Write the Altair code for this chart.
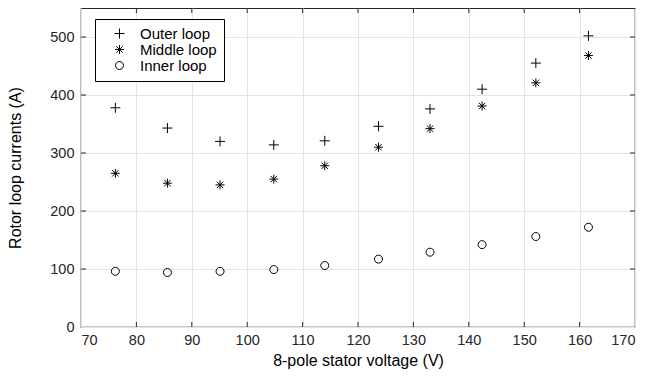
import altair as alt
import pandas as pd

voltage = [76.2, 85.6, 95.1, 104.8, 114.0, 123.7, 133.0, 142.4, 152.1, 161.6]
outer = [378, 343, 320, 314, 321, 346, 376, 410, 455, 502]
middle = [265, 248, 245, 255, 278, 310, 342, 381, 421, 468]
inner = [96, 94, 96, 99, 106, 117, 129, 142, 156, 172]
series_names = ["Outer loop", "Middle loop", "Inner loop"]
x_ticks = [70, 80, 90, 100, 110, 120, 130, 140, 150, 160, 170]
y_ticks = [0, 100, 200, 300, 400, 500]

rows = []
for name, vals in zip(series_names, [outer, middle, inner]):
    for v, c in zip(voltage, vals):
        rows.append({"V": v, "I": c, "Loop": name})
df = pd.DataFrame(rows)

W, H = 554, 319
FONT = "Liberation Sans"

xs = alt.Scale(domain=[70, 170], nice=False)
ys = alt.Scale(domain=[0, 550], nice=False)

plus = "M-1,0H1M0,-1V1"
star = "M-0.9,0H0.9M0,-0.9V0.9M-0.64,-0.64L0.64,0.64M-0.64,0.64L0.64,-0.64"
ring = "M0.8,0A0.8,0.8 0 1,1 -0.8,0A0.8,0.8 0 1,1 0.8,0Z"

points = alt.Chart(df).mark_point(filled=False, strokeWidth=1, color="black", opacity=1, size=100).encode(
    x=alt.X("V:Q", scale=xs, title="8-pole stator voltage (V)",
            axis=alt.Axis(values=x_ticks, grid=True, ticks=False, domain=False,
                          labelPadding=6, titlePadding=6)),
    y=alt.Y("I:Q", scale=ys, title="Rotor loop currents (A)",
            axis=alt.Axis(values=y_ticks, grid=True, ticks=False, domain=False,
                          labelPadding=7, titlePadding=26)),
    shape=alt.Shape("Loop:N", scale=alt.Scale(domain=series_names, range=[plus, star, ring]),
                    legend=alt.Legend(title=None, orient="none", legendX=14, legendY=11,
                                      strokeColor="black", fillColor="white", padding=7,
                                      labelFontSize=15, symbolStrokeColor="black",
                                      symbolFillColor="white",
                                      symbolStrokeWidth=1, symbolSize=100, rowPadding=0,
                                      symbolOffset=10, labelOffset=13, offset=0)),
)

xt = pd.DataFrame({"t": x_ticks[1:-1]})
yt = pd.DataFrame({"t": y_ticks[1:]})
tick_bot = alt.Chart(xt).mark_rule(color="#262626").encode(x=alt.X("t:Q", scale=xs), y=alt.value(H), y2=alt.value(H - 5))
tick_top = alt.Chart(xt).mark_rule(color="#262626").encode(x=alt.X("t:Q", scale=xs), y=alt.value(0), y2=alt.value(5))
tick_l = alt.Chart(yt).mark_rule(color="#262626").encode(y=alt.Y("t:Q", scale=ys), x=alt.value(0), x2=alt.value(5))
tick_r = alt.Chart(yt).mark_rule(color="#262626").encode(y=alt.Y("t:Q", scale=ys), x=alt.value(W), x2=alt.value(W - 5))

chart = alt.layer(points, tick_bot, tick_top, tick_l, tick_r).properties(
    width=W, height=H,
    autosize=alt.AutoSizeParams(type="none"),
    padding={"left": 73, "top": 0, "right": 11, "bottom": 47},
).configure_view(stroke="#262626", strokeWidth=1.2).configure_axis(
    gridColor="#e3e3e3", gridWidth=1, labelFont=FONT, titleFont=FONT,
    labelFontSize=14.5, titleFontSize=16, labelColor="#262626", titleColor="black",
    titleFontWeight="normal"
).configure_legend(labelFont=FONT, labelColor="black")

chart.save("out.html", embed_options={"renderer": "svg", "actions": False})
